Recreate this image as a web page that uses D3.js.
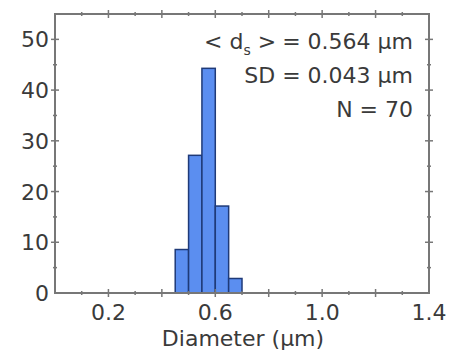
<!DOCTYPE html>
<html>
<head>
<meta charset="utf-8">
<script src="https://cdn.jsdelivr.net/npm/d3@7"></script>
<style>
	body { margin: 0; background: #fff; }
	svg text { font-family: "DejaVu Sans", sans-serif; fill: #3a3a3a; }
</style>
</head>
<body>
<div id="grafico"></div>
<script>
// bins de 0.05 um, valores en % (N = 70)
const binStart = [0.45, 0.50, 0.55, 0.60, 0.65];
const binWidth = 0.05;
const percent = [8.57, 27.14, 44.29, 17.14, 2.86];

const xTicks = [0.2, 0.6, 1.0, 1.4];
const yTicks = [0, 10, 20, 30, 40, 50];
const statLines = ["= 0.564 µm", "SD = 0.043 µm", "N = 70"];

const ancho = 452;
const alto = 353;
const marginLeft = 55;
const plotRight = 429;
const marginTop = 14;
const plotBottom = 293;
const fs = "22px";

const xScale = d3.scaleLinear().domain([0, 1.4]).range([marginLeft, plotRight]);
const yScale = d3.scaleLinear().domain([0, 55]).range([plotBottom, marginTop]);

const svg = d3.select("#grafico")
	.append("svg")
	.attr("width", ancho)
	.attr("height", alto);

// barras
svg.selectAll("rect.bar")
	.data(binStart.map((b, i) => [b, percent[i]]))
	.enter()
	.append("rect")
	.attr("class", "bar")
	.attr("x", d => xScale(d[0]))
	.attr("y", d => yScale(d[1]))
	.attr("width", xScale(binWidth) - xScale(0))
	.attr("height", d => yScale(0) - yScale(d[1]))
	.attr("fill", "#5b8ef0")
	.attr("stroke", "#1f3a78")
	.attr("stroke-width", 1.5);

// marco
svg.append("rect")
	.attr("x", marginLeft)
	.attr("y", marginTop)
	.attr("width", plotRight - marginLeft)
	.attr("height", plotBottom - marginTop)
	.attr("fill", "none")
	.attr("stroke", "#777")
	.attr("stroke-width", 2);

// ticks (cruzan el marco)
const xMinor = d3.range(0.1, 1.4, 0.1);
const yMinor = d3.range(5, 55, 5);
const tickColor = "#777";

function xTicksAt(yPos) {
	svg.append("g").selectAll("line")
		.data(xMinor)
		.enter()
		.append("line")
		.attr("x1", d => xScale(d)).attr("x2", d => xScale(d))
		.attr("y1", (d, i) => yPos - (i % 2 ? 4 : 2))
		.attr("y2", (d, i) => yPos + (i % 2 ? 4 : 2))
		.attr("stroke", tickColor).attr("stroke-width", 1.5);
}
function yTicksAt(xPos) {
	svg.append("g").selectAll("line")
		.data(yMinor)
		.enter()
		.append("line")
		.attr("y1", d => yScale(d)).attr("y2", d => yScale(d))
		.attr("x1", (d, i) => xPos - (i % 2 ? 4 : 2))
		.attr("x2", (d, i) => xPos + (i % 2 ? 4 : 2))
		.attr("stroke", tickColor).attr("stroke-width", 1.5);
}
xTicksAt(plotBottom);
xTicksAt(marginTop);
yTicksAt(marginLeft);
yTicksAt(plotRight);

// etiquetas
svg.append("g").selectAll("text")
	.data(xTicks)
	.enter()
	.append("text")
	.attr("x", d => xScale(d))
	.attr("y", 320)
	.attr("text-anchor", "middle")
	.style("font-size", fs)
	.text(d => d.toFixed(1));

svg.append("g").selectAll("text")
	.data(yTicks)
	.enter()
	.append("text")
	.attr("x", 49)
	.attr("y", d => yScale(d) + 8)
	.attr("text-anchor", "end")
	.style("font-size", fs)
	.text(d => d);

svg.append("text")
	.attr("x", 243)
	.attr("y", 346)
	.attr("text-anchor", "middle")
	.style("font-size", fs)
	.text("Diameter (µm)");

// estadisticas
const stats = svg.append("g").style("font-size", fs).attr("text-anchor", "end");
stats.selectAll("text")
	.data(statLines)
	.enter()
	.append("text")
	.attr("x", 413)
	.attr("y", (d, i) => 49 + i * 34)
	.text(d => d);

// "< d_s >" con subindice
const first = stats.select("text");
const lbl = stats.append("text")
	.attr("x", 413 - first.node().getComputedTextLength() - 6)
	.attr("y", 49);
lbl.append("tspan").text("< d");
lbl.append("tspan").attr("dy", 6).style("font-size", "14px").text("s");
lbl.append("tspan").attr("dy", -6).text(" >");
</script>
</body>
</html>
